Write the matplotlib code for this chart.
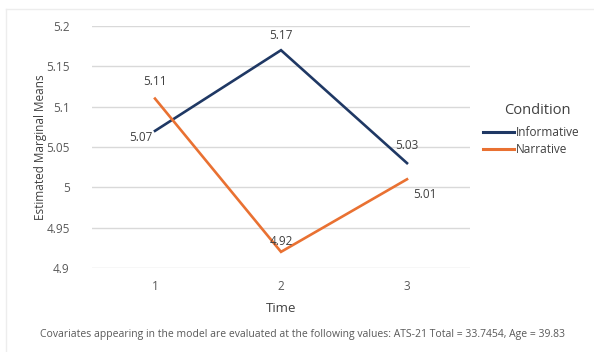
"""Estimated marginal means over time by condition (Excel-style line chart)."""

import matplotlib

matplotlib.use("Agg")
import matplotlib.pyplot as plt
from matplotlib.lines import Line2D

times = ["1", "2", "3"]
informative = [5.07, 5.17, 5.03]
narrative = [5.11, 4.92, 5.01]
y_ticks = [4.9, 4.95, 5.0, 5.05, 5.1, 5.15, 5.2]
y_tick_labels = ["4.9", "4.95", "5", "5.05", "5.1", "5.15", "5.2"]
caption = ("Covariates appearing in the model are evaluated at the following values: "
           "ATS-21 Total = 33.7454, Age = 39.83")

BLUE = "#1F3864"
ORANGE = "#E97132"
TEXT = "#595959"

plt.rcParams["font.family"] = ["Open Sans", "DejaVu Sans"]

fig = plt.figure(figsize=(5.94, 3.52), dpi=100)
ax = fig.add_axes([92 / 594, 1 - 268 / 352, 378 / 594, 242 / 352])

x = list(range(1, len(times) + 1))
ax.plot(x, informative, color=BLUE, linewidth=1.9, solid_joinstyle="miter")
ax.plot(x, narrative, color=ORANGE, linewidth=1.9, solid_joinstyle="miter")

# data labels, offsets in pixels to mimic Excel's placement
label_style = dict(textcoords="offset pixels", fontsize=8.5, color="#404040")
inf_offsets = [((-2, -7), "right"), ((0, 15), "center"), ((0, 18), "center")]
nar_offsets = [((0, 17), "center"), ((0, 10), "center"), ((18, -15), "center")]
for xi, val, (off, ha) in zip(x, informative, inf_offsets):
    ax.annotate(f"{val:.2f}", (xi, val), xytext=off, ha=ha, va="center", **label_style)
for xi, val, (off, ha) in zip(x, narrative, nar_offsets):
    ax.annotate(f"{val:.2f}", (xi, val), xytext=off, ha=ha, va="center", **label_style)

ax.set_xlim(0.5, 3.5)
ax.set_ylim(4.9, 5.2)
ax.set_xticks(x)
ax.set_xticklabels(times)
ax.set_yticks(y_ticks)
ax.set_yticklabels(y_tick_labels)
ax.tick_params(length=0, labelsize=8.5, labelcolor=TEXT)
ax.tick_params(axis="x", pad=9)
ax.tick_params(axis="y", pad=16)
ax.grid(axis="y", color="#D9D9D9", linewidth=1)
ax.set_axisbelow(True)
for spine in ax.spines.values():
    spine.set_visible(False)

ax.set_xlabel("Time", fontsize=9.5, color="#404040", labelpad=6)
ax.set_ylabel("Estimated Marginal Means", fontsize=8.5, color="#404040")
ax.yaxis.set_label_coords((47 - 92) / 378, 0.5)

# legend title drawn separately so its gap to the entries matches Excel
fig.text(537 / 594, 1 - 110 / 352, "Condition", ha="center", va="center",
         fontsize=10.5, color="#404040")
handles = [Line2D([], [], color=BLUE, linewidth=2.2),
           Line2D([], [], color=ORANGE, linewidth=2.2)]
leg = fig.legend(handles, ["Informative", "Narrative"],
                 loc="upper left", bbox_to_anchor=(483 / 594, 1 - 126 / 352),
                 frameon=False, fontsize=8.5,
                 handlelength=2.6, handletextpad=0.15, labelspacing=0.35,
                 borderaxespad=0, borderpad=0)
for t in leg.get_texts():
    t.set_color("#404040")

fig.text(303 / 594, 1 - 335 / 352, caption, ha="center", va="center", fontsize=7.5, color=TEXT)

# faint chart frame at top and left
fig.add_artist(Line2D([6 / 594, 1], [1 - 9 / 352, 1 - 9 / 352], color="#EDEDED", linewidth=1))
fig.add_artist(Line2D([6 / 594, 6 / 594], [1 - 9 / 352, 0], color="#EDEDED", linewidth=1))

fig.savefig("out.png", dpi=100)
